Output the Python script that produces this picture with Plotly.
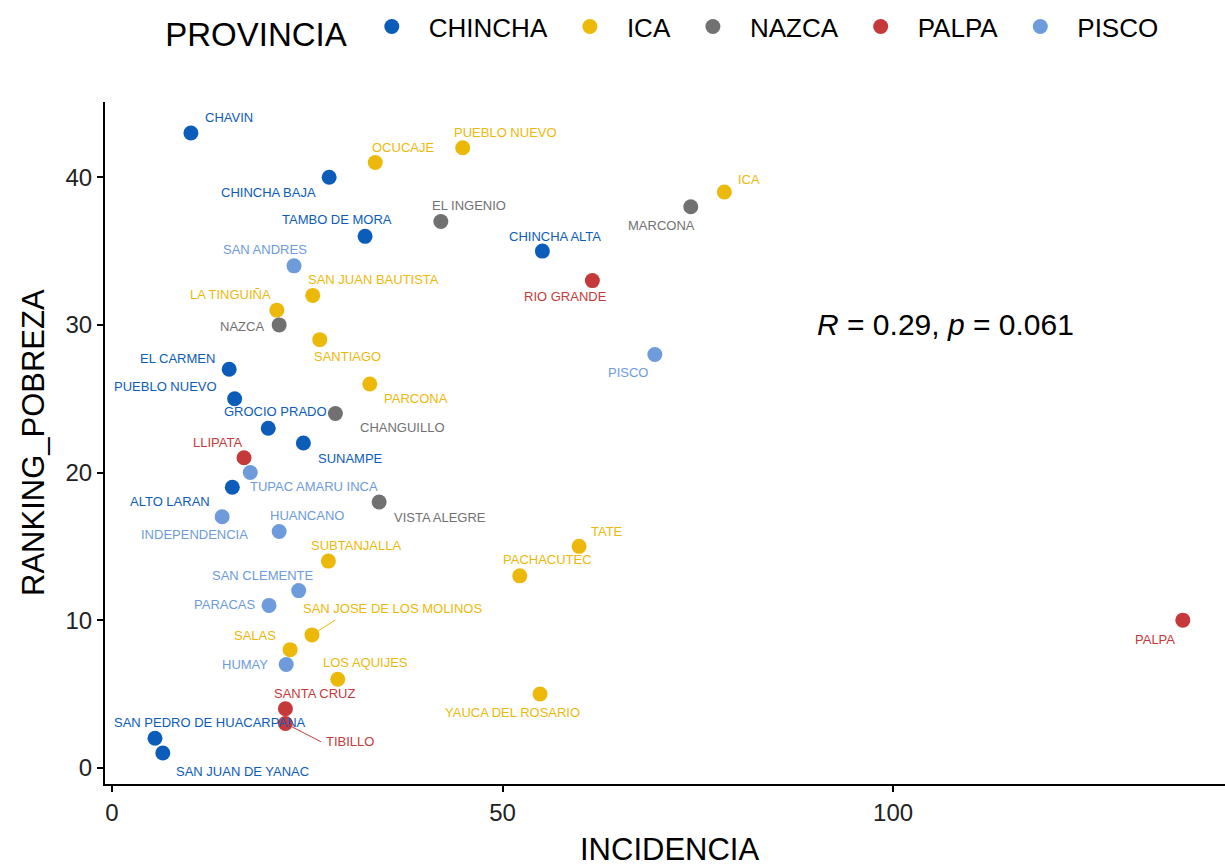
import plotly.graph_objects as go

# ---------------- data ----------------
provincias = ["CHINCHA", "ICA", "NAZCA", "PALPA", "PISCO"]

distrito = [
    "CHAVIN", "CHINCHA BAJA", "TAMBO DE MORA", "CHINCHA ALTA", "EL CARMEN",
    "PUEBLO NUEVO", "GROCIO PRADO", "SUNAMPE", "ALTO LARAN",
    "SAN PEDRO DE HUACARPANA", "SAN JUAN DE YANAC",
    "OCUCAJE", "PUEBLO NUEVO", "ICA", "SAN JUAN BAUTISTA", "LA TINGUIÑA",
    "SANTIAGO", "PARCONA", "SUBTANJALLA", "TATE", "PACHACUTEC",
    "SAN JOSE DE LOS MOLINOS", "SALAS", "LOS AQUIJES", "YAUCA DEL ROSARIO",
    "EL INGENIO", "MARCONA", "NAZCA", "CHANGUILLO", "VISTA ALEGRE",
    "RIO GRANDE", "LLIPATA", "SANTA CRUZ", "TIBILLO", "PALPA",
    "SAN ANDRES", "PISCO", "TUPAC AMARU INCA", "INDEPENDENCIA", "HUANCANO",
    "SAN CLEMENTE", "PARACAS", "HUMAY",
]
provincia = (["CHINCHA"] * 11 + ["ICA"] * 14 + ["NAZCA"] * 5 +
             ["PALPA"] * 5 + ["PISCO"] * 8)
incidencia = [
    10.1, 27.8, 32.4, 55.1, 15.0, 15.7, 20.0, 24.5, 15.4, 5.5, 6.5,
    33.7, 44.9, 78.4, 25.7, 21.1, 26.6, 33.0, 27.7, 59.8, 52.2, 25.6, 22.8, 28.9, 54.8,
    42.1, 74.1, 21.4, 28.6, 34.2,
    61.5, 16.9, 22.2, 22.2, 137.1,
    23.3, 69.5, 17.7, 14.1, 21.4, 23.9, 20.1, 22.3,
]
ranking_pobreza = [
    43, 40, 36, 35, 27, 25, 23, 22, 19, 2, 1,
    41, 42, 39, 32, 31, 29, 26, 14, 15, 13, 9, 8, 6, 5,
    37, 38, 30, 24, 18,
    33, 21, 4, 3, 10,
    34, 28, 20, 17, 16, 12, 11, 7,
]
x_ticks = [0, 50, 100]
y_ticks = [0, 10, 20, 30, 40]
stat_text = "<i>R</i> = 0.29, <i>p</i> = 0.061"

# ---------------- styles ----------------
colores = {"CHINCHA": "#0C5CBA", "ICA": "#ECB90A", "NAZCA": "#717171",
           "PALPA": "#C6393A", "PISCO": "#6D9BDC"}
# label pixel offsets (dx right, dy down) relative to each point
label_offsets = [
    (38, -16), (-61, 15), (-28, -17), (13, -15), (-52, -11),
    (-69, -12), (7, -17), (47, 15), (-62, 14), (55, -16), (80, 18),
    (28, -15), (43, -15), (25, -13), (61, -16), (-46, -16),
    (28, 17), (46, 15), (28, -16), (28, -15), (28, -16),
    (81, -26), (-35, -14), (28, -17), (-28, 19),
    (28, -16), (-29, 19), (-37, 2), (67, 14), (61, 15),
    (-27, 16), (-27, -15), (29, -15), (65, 18), (-28, 19),
    (-29, -16), (-27, 18), (64, 14), (-28, 18), (28, -16),
    (-36, -15), (-45, -1), (-41, 0),
]
# connector segments for repelled labels (index -> pixel offset of segment end)
segments = {21: (25, -16), 33: (37, 19)}

FONT = "Liberation Sans, Arial, sans-serif"

fig = go.Figure()
for p in provincias:
    idx = [i for i, v in enumerate(provincia) if v == p]
    fig.add_trace(go.Scatter(
        x=[incidencia[i] for i in idx],
        y=[ranking_pobreza[i] for i in idx],
        mode="markers",
        name=p,
        marker=dict(color=colores[p], size=15, line=dict(width=0)),
        hoverinfo="skip",
    ))

annotations = []
for i, name in enumerate(distrito):
    c = colores[provincia[i]]
    if i in segments:
        sx, sy = segments[i]
        annotations.append(dict(
            x=incidencia[i], y=ranking_pobreza[i], xref="x", yref="y",
            text="", showarrow=True, arrowhead=0, arrowwidth=1,
            arrowcolor=c, ax=sx, ay=sy, standoff=0,
        ))
    dx, dy = label_offsets[i]
    annotations.append(dict(
        x=incidencia[i], y=ranking_pobreza[i], xref="x", yref="y",
        text=name, showarrow=False, xshift=dx, yshift=-dy,
        xanchor="center", yanchor="middle",
        font=dict(family=FONT, size=13, color=c),
    ))

annotations.append(dict(
    x=90, y=30, xref="x", yref="y", text=stat_text, showarrow=False,
    xanchor="left", yanchor="middle",
    font=dict(family=FONT, size=30, color="black"),
))
annotations.append(dict(
    x=0.504, y=0, xref="paper", yref="paper", text="INCIDENCIA",
    showarrow=False, xanchor="center", yanchor="top", yshift=-46,
    font=dict(family=FONT, size=31, color="black"),
))
annotations.append(dict(
    x=0, y=0.5, xref="paper", yref="paper", text="RANKING_POBREZA",
    showarrow=False, xanchor="center", yanchor="middle", xshift=-72,
    textangle=-90,
    font=dict(family=FONT, size=31, color="black"),
))

axis_common = dict(
    showgrid=False, zeroline=False, showline=True, linecolor="black",
    linewidth=2, ticks="outside", ticklen=6, tickwidth=1.5,
    tickcolor="black", tickfont=dict(family=FONT, size=24, color="#222222"),
    mirror=False,
)

fig.update_layout(
    width=1225, height=866,
    margin=dict(l=105, r=0, t=102, b=82),
    paper_bgcolor="white", plot_bgcolor="white",
    xaxis=dict(range=[-0.9, 142.5], tickvals=x_ticks, **axis_common),
    yaxis=dict(range=[-1.1, 45.1], tickvals=y_ticks, **axis_common),
    annotations=annotations,
    showlegend=True,
    legend=dict(
        orientation="h", x=0.052, xanchor="left", y=1.145, yanchor="top",
        title=dict(text="PROVINCIA", font=dict(family=FONT, size=33, color="black")),
        font=dict(family=FONT, size=26, color="black"),
        itemwidth=64, bgcolor="rgba(0,0,0,0)",
    ),
)

fig.write_html("out.html", config={"displayModeBar": False},
               post_script="document.body.style.margin='0px';")
